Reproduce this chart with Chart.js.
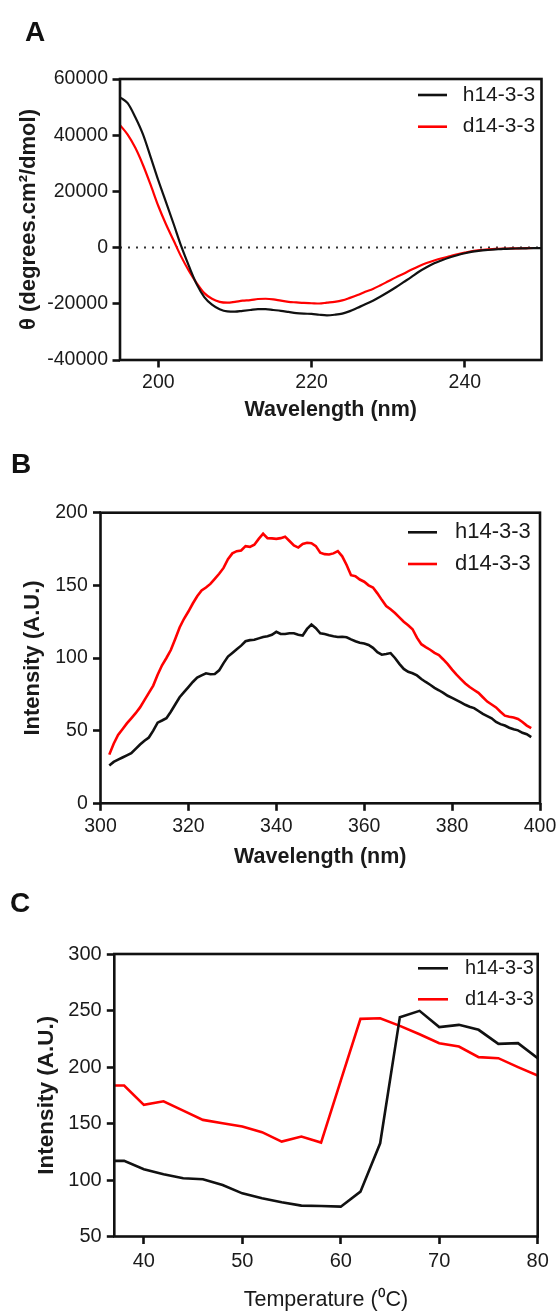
<!DOCTYPE html>
<html lang="en">
<head>
<meta charset="UTF-8">
<title>h14-3-3 / d14-3-3 spectra</title>
<script src="https://cdn.jsdelivr.net/npm/chart.js@4.4.4/dist/chart.umd.js"></script>
<style>
  html, body { margin: 0; padding: 0; background: #fff; }
  #page { position: relative; width: 556px; height: 1313px; }
  canvas { position: absolute; left: 0; }
  .tag { position: absolute; font: bold 28px/28px "Liberation Sans", Arial, sans-serif; color: #111; }
</style>
</head>
<body>
<div id="page">
  <canvas id="cd" width="556" height="440" style="top:0"></canvas>
  <canvas id="fl" width="556" height="430" style="top:440px"></canvas>
  <canvas id="tm" width="556" height="443" style="top:870px"></canvas>
  <div class="tag" style="left:25px;top:18px">A</div>
  <div class="tag" style="left:11px;top:450px">B</div>
  <div class="tag" style="left:10px;top:889px">C</div>
</div>
<script>
const FONT = '"Liberation Sans", Arial, Helvetica, sans-serif';
const seriesNames = ['h14-3-3', 'd14-3-3'];
const seriesColors = ['#111111', '#ff0000'];

function range(a, b) {
  const out = [];
  for (let v = a; v <= b; v++) out.push(v);
  return out;
}

// A: far-UV CD, mean residue ellipticity
const cdWavelength = range(195, 250);
const cdH = [
  53500, 51400, 46400, 40300, 32200, 23900, 16200, 8400, 400, -6600,
  -13000, -17600, -20300, -21900, -22700, -22800, -22500, -22200, -21900, -21900,
  -22200, -22500, -22900, -23300, -23500, -23600, -23900, -24100, -23900, -23500,
  -22600, -21400, -20200, -18900, -17400, -15800, -14100, -12300, -10500, -8600,
  -7000, -5600, -4500, -3500, -2700, -2000, -1450, -1050, -850, -650,
  -450, -350, -300, -250, -200, -200
];
const cdD = [
  43600, 40200, 35500, 29400, 22300, 14800, 8300, 2500, -3300, -8300,
  -12600, -16200, -18200, -19300, -19600, -19300, -18900, -18700, -18300, -18200,
  -18400, -18900, -19300, -19500, -19700, -19800, -19900, -19600, -19300, -18800,
  -17900, -16900, -15700, -14700, -13400, -12000, -10600, -9300, -7900, -6600,
  -5500, -4600, -3800, -3100, -2400, -1800, -1250, -900, -650, -450,
  -350, -300, -250, -200, -150, -150
];
const cdXTicks = [200, 220, 240];
const cdYTicks = [-40000, -20000, 0, 20000, 40000, 60000];

// B: intrinsic tryptophan fluorescence
const flWavelength = range(302, 398);
const flH = [
  26, 28.5, 30, 31.5, 33, 34.5, 37.5, 40.5, 43, 45.3,
  50, 55.5, 57, 58.6, 63, 68, 73, 76.5, 80, 83.5,
  86.5, 88, 89.5, 88.8, 89, 91.5, 96.5, 101, 103.5, 106,
  108.5, 111.5, 112.3, 112.5, 113.5, 114.5, 115, 116, 118, 116.5,
  116.5, 117, 117, 116, 115.5, 120, 123, 120.5, 117, 116.5,
  115.7, 115, 114.5, 114.6, 114.3, 112.8, 111.5, 110.5, 110, 109,
  107, 104, 102.3, 102.8, 103.4, 100, 96, 92.5, 90.5, 89.5,
  88, 85.5, 83.5, 81.6, 79.5, 77.8, 76, 74, 72.5, 71,
  69.5, 67.8, 66.5, 65.5, 63.5, 61.5, 60, 58.5, 56, 54.5,
  53.5, 52, 51, 50.2, 48.5, 47.5, 45.5
];
const flD = [
  33.5, 41, 47, 51, 55, 58.5, 62, 66, 71, 76,
  81, 88.5, 95, 100, 105.5, 113, 121, 127, 132, 137.5,
  142.5, 146.5, 148.5, 151, 154.5, 158, 162, 168, 172, 173.5,
  174, 177, 176.5, 178, 182, 185.5, 182.5, 182.3, 182, 182.5,
  183.5, 180.5, 177.5, 176, 178.5, 179.3, 179, 177, 172.5, 171.5,
  171.2, 172, 173.5, 170, 164, 157, 156.3, 154, 152.5, 150,
  148.5, 144.5, 140, 135.8, 133.5, 131, 128, 125, 122.5, 119.8,
  114, 109.5, 107.5, 105.7, 103.5, 102, 99, 95.8, 92, 88.5,
  85.5, 82.5, 80, 78, 76, 73, 70, 68, 66, 63,
  60.3, 59.5, 59, 58, 56, 53.5, 51.7
];
const flXTicks = [300, 320, 340, 360, 380, 400];
const flYTicks = [0, 50, 100, 150, 200];

// C: thermal unfolding followed by fluorescence
const tmTemp = [37, 38, 40, 42, 44, 46, 48, 50, 52, 54, 56, 58, 60, 62, 64, 66, 68, 70, 72, 74, 76, 78, 80];
const tmH = [116.9, 116.9, 109.5, 105.1, 101.5, 100.7, 95.6, 88.2, 83.8, 80.3, 77.3, 77.0, 76.4, 89.7, 132.5, 244.1, 249.7, 235.3, 237.3, 232.9, 220.5, 221.1, 207.8];
const tmD = [183.6, 183.6, 166.5, 169.7, 161.4, 153.2, 150.3, 147.3, 142.3, 134.0, 138.4, 133.1, 188.0, 242.6, 243.2, 236.4, 229.0, 221.1, 218.1, 208.7, 207.8, 199.9, 192.4];
const tmXTicks = [40, 50, 60, 70, 80];
const tmYTicks = [50, 100, 150, 200, 250, 300];

const toPoints = (xs, ys) => xs.map((x, i) => ({ x, y: ys[i] }));

// box round the plot area
const framePlugin = {
  id: 'frame',
  afterDatasetsDraw(chart) {
    const { ctx, chartArea: a } = chart;
    ctx.save();
    ctx.strokeStyle = '#111';
    ctx.lineWidth = 2.6;
    ctx.strokeRect(a.left, a.top, a.right - a.left, a.bottom - a.top);
    ctx.restore();
  }
};

// legend drawn inside the top right corner
const keyPlugin = {
  id: 'key',
  afterDraw(chart, args, o) {
    const { ctx, chartArea: a } = chart;
    ctx.save();
    ctx.font = o.size + 'px ' + FONT;
    ctx.textBaseline = 'middle';
    ctx.textAlign = 'left';
    chart.data.datasets.filter(ds => ds.label).forEach((ds, i) => {
      const y = a.top + o.top + i * o.gap;
      const x0 = a.right - o.right;
      ctx.strokeStyle = ds.borderColor;
      ctx.lineWidth = 2.6;
      ctx.beginPath();
      ctx.moveTo(x0, y);
      ctx.lineTo(x0 + o.len, y);
      ctx.stroke();
      ctx.fillStyle = '#1a1a1a';
      ctx.fillText(ds.label, x0 + o.textAt, y);
    });
    ctx.restore();
  }
};

function axis(p) {
  return {
    type: 'linear',
    min: p.min,
    max: p.max,
    afterBuildTicks: s => { s.ticks = p.ticks.map(v => ({ value: v })); },
    afterFit: s => {
      if (s.isHorizontal()) s.height = p.size; else s.width = p.size;
      s.paddingLeft = s.paddingRight = s.paddingTop = s.paddingBottom = 0;
    },
    border: { display: false },
    grid: { drawOnChartArea: false, drawTicks: true, tickLength: 7.5, tickWidth: 2.6, tickColor: '#111' },
    ticks: {
      autoSkip: false, maxRotation: 0,
      padding: p.tickPad,
      color: '#1a1a1a',
      font: { family: FONT, size: p.tickSize || 19.5, lineHeight: 1.2 },
      callback: v => String(v)
    },
    title: {
      display: true,
      text: p.title,
      color: '#1a1a1a',
      font: { family: FONT, size: p.titleSize, weight: p.bold === false ? 'normal' : 'bold', lineHeight: 1 },
      padding: { top: p.titlePad, bottom: p.titlePad }
    }
  };
}

function series(xs, h, d, width, smooth) {
  return [h, d].map((ys, i) => ({
    label: seriesNames[i],
    data: toPoints(xs, ys),
    borderColor: seriesColors[i],
    borderWidth: width,
    pointRadius: 0,
    fill: false,
    tension: 0,
    cubicInterpolationMode: smooth ? 'monotone' : 'default'
  }));
}

function panel(id, datasets, pad, key, x, y) {
  return new Chart(document.getElementById(id), {
    type: 'line',
    data: { datasets },
    options: {
      responsive: false,
      animation: false,
      devicePixelRatio: 1,
      layout: { padding: pad },
      plugins: { legend: { display: false }, tooltip: { enabled: false }, key },
      scales: { x: axis(x), y: axis(y) }
    },
    plugins: [framePlugin, keyPlugin]
  });
}

// A
const cdSets = series(cdWavelength, cdH, cdD, 2.2, true);
cdSets.push({
  label: '',
  data: [{ x: 195, y: 0 }, { x: 250, y: 0 }],
  borderColor: '#333',
  borderWidth: 2,
  borderDash: [2, 6],
  pointRadius: 0
});
panel('cd', cdSets,
  { top: 79, right: 14.5, left: 0, bottom: 0 },
  { size: 21, top: 16, gap: 31.7, right: 123.5, len: 29, textAt: 44.7 },
  { min: 195, max: 250, ticks: cdXTicks, size: 80, tickPad: 3.8, title: 'Wavelength (nm)', titleSize: 21.5, titlePad: 19 },
  { min: -40000, max: 60000, ticks: cdYTicks, size: 120, tickPad: 4.5, title: 'θ (degrees.cm²/dmol)', titleSize: 22, titlePad: 18 });

// B
panel('fl', series(flWavelength, flH, flD, 2.6, false),
  { top: 72.7, right: 16, left: 0, bottom: 0 },
  { size: 22, top: 19.6, gap: 31.7, right: 132, len: 29, textAt: 47 },
  { min: 300, max: 400, ticks: flXTicks, size: 66.7, tickPad: 4.2, title: 'Wavelength (nm)', titleSize: 21.5, titlePad: 2.5 },
  { min: 0, max: 200, ticks: flYTicks, size: 100.5, tickPad: 5.2, title: 'Intensity (A.U.)', titleSize: 22, titlePad: 22 });

// C
panel('tm', series(tmTemp, tmH, tmD, 2.6, false),
  { top: 84, right: 18.3, left: 0, bottom: 0 },
  { size: 20, top: 14.3, gap: 31, right: 119.7, len: 30, textAt: 47 },
  { min: 37, max: 80, ticks: tmXTicks, size: 76.5, tickPad: 5.7, tickSize: 20, title: 'Temperature (⁰C)', titleSize: 21.5, titlePad: 2.5, bold: false },
  { min: 50, max: 300, ticks: tmYTicks, size: 114.3, tickPad: 5.1, tickSize: 20, title: 'Intensity (A.U.)', titleSize: 22.5, titlePad: 35.5 });
</script>
</body>
</html>
